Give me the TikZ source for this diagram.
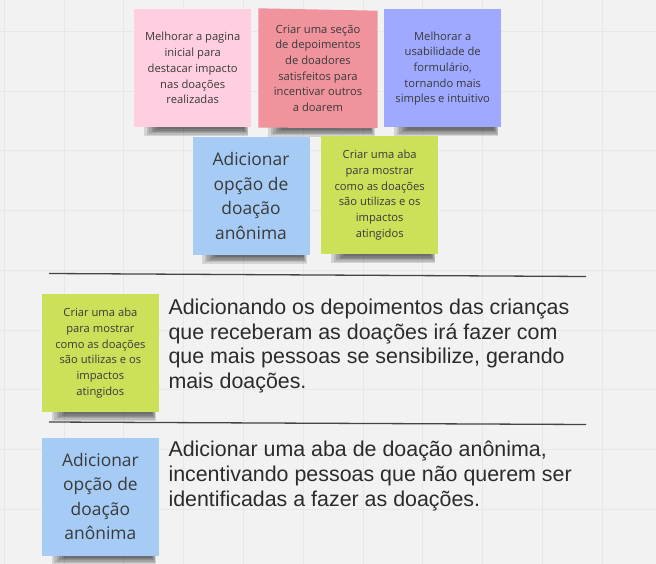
\documentclass[tikz,border=0pt]{standalone}
\usepackage{fontspec}
\setmainfont{Liberation Sans}
\newfontfamily\notefont{Open Sans}
\usetikzlibrary{calc}
\definecolor{bgcol}{HTML}{F2F2F2}
\definecolor{gridcol}{HTML}{E7E7E7}
\definecolor{cpink}{HTML}{FFCEE0}
\definecolor{cred}{HTML}{F0939D}
\definecolor{cviolet}{HTML}{9EA9FF}
\definecolor{clblue}{HTML}{A6CCF5}
\definecolor{cgreen}{HTML}{CCE05A}
\definecolor{notetext}{HTML}{3A3A3A}
\definecolor{bodytext}{HTML}{2B2B2B}
\definecolor{rulecol}{HTML}{444444}
\pgfdeclarelayer{gridlayer}
\pgfdeclarelayer{shadowlayer}
\pgfsetlayers{gridlayer,shadowlayer,main}
\tikzset{
  note/.style={rectangle, inner sep=0pt, minimum width=117pt, minimum height=118pt,
    align=center, text=notetext, anchor=north west},
  smalltext/.style={font=\notefont\fontsize{11.2}{15.7}\selectfont},
  bigtext/.style={font=\notefont\fontsize{17.4}{24.5}\selectfont},
  para/.style={font=\fontsize{21.4}{24.7}\selectfont, text=bodytext, align=left,
    inner sep=0pt, anchor=base west},
  seprule/.style={draw=rulecol, line width=1.3pt},
  shadowpart/.style={fill=black, fill opacity=0.12},
  gridline/.style={draw=gridcol, line width=0.9pt},
}
\begin{document}
\begin{tikzpicture}[x=1pt,y=-1pt]
\useasboundingbox (0,0) rectangle (656,564);
\begin{pgfonlayer}{gridlayer}
  \fill[bgcol] (0,0) rectangle (656,564);
  \foreach \i in {0,...,10} \draw[gridline] ({4.3+59.8*\i},0) -- ++(0,564);
  \foreach \j in {0,...,9} \draw[gridline] (0,{31.5+59.7*\j}) -- ++(656,0);
\end{pgfonlayer}

\node[note, fill=cpink, smalltext] (n1) at (134,9)
  {Melhorar a pagina\\inicial para\\destacar impacto\\nas doações\\realizadas};
\node[note, minimum width=119pt, minimum height=119.5pt, smalltext] (n2) at (258.3,8.3)
  {Criar uma seção\\de depoimentos\\de doadores\\satisfeitos para\\incentivar outros\\a doarem};
\node[note, fill=cviolet, smalltext] (n3) at (384,9.3)
  {Melhorar a\\usabilidade de\\formulário,\\tornando mais\\simples e intuitivo};
\node[note, fill=clblue, bigtext] (n4) at (192.3,136.7)
  {Adicionar\\opção de\\doação\\anônima};
\node[note, fill=cgreen, smalltext] (n5) at (321,136)
  {Criar uma aba\\para mostrar\\como as doações\\são utilizas e os\\impactos\\atingidos};
\node[note, fill=cgreen, smalltext] (n6) at (41.7,294)
  {Criar uma aba\\para mostrar\\como as doações\\são utilizas e os\\impactos\\atingidos};
\node[note, fill=clblue, bigtext] (n7) at (41.7,437.3)
  {Adicionar\\opção de\\doação\\anônima};

\begin{pgfonlayer}{shadowlayer}
  \foreach \n in {n1,n2,n3,n4,n5,n6,n7}
    \foreach \k in {0,...,5}
      \fill[shadowpart] ($(\n.south west)+({10+2.5*\k},-2)$)
        rectangle ($(\n.south east)+({-3-0.8*\k},{8.5-1.3*\k})$);
  \fill[cred] (n2.north west) -- ($(n2.north east)+(0,2.4)$)
    -- (n2.south east) -- ($(n2.south west)+(0,-0.6)$) -- cycle;
\end{pgfonlayer}

\coordinate (s1a) at (49,273.5);
\coordinate (s1b) at (586,276.5);
\coordinate (s2a) at (49,422);
\coordinate (s2b) at (586,424.5);
\draw[seprule] (s1a) -- (s1b);
\draw[seprule] (s2a) -- (s2b);

\node[para] (p1) at (168.3,388.4)
  {Adicionando os depoimentos das crianças\\que receberam as doações irá fazer com\\que mais pessoas se sensibilize, gerando\\mais doações.};
\node[para] (p2) at (168.3,506.1)
  {Adicionar uma aba de doação anônima,\\incentivando pessoas que não querem ser\\identificadas a fazer as doações.};
\end{tikzpicture}
\end{document}
